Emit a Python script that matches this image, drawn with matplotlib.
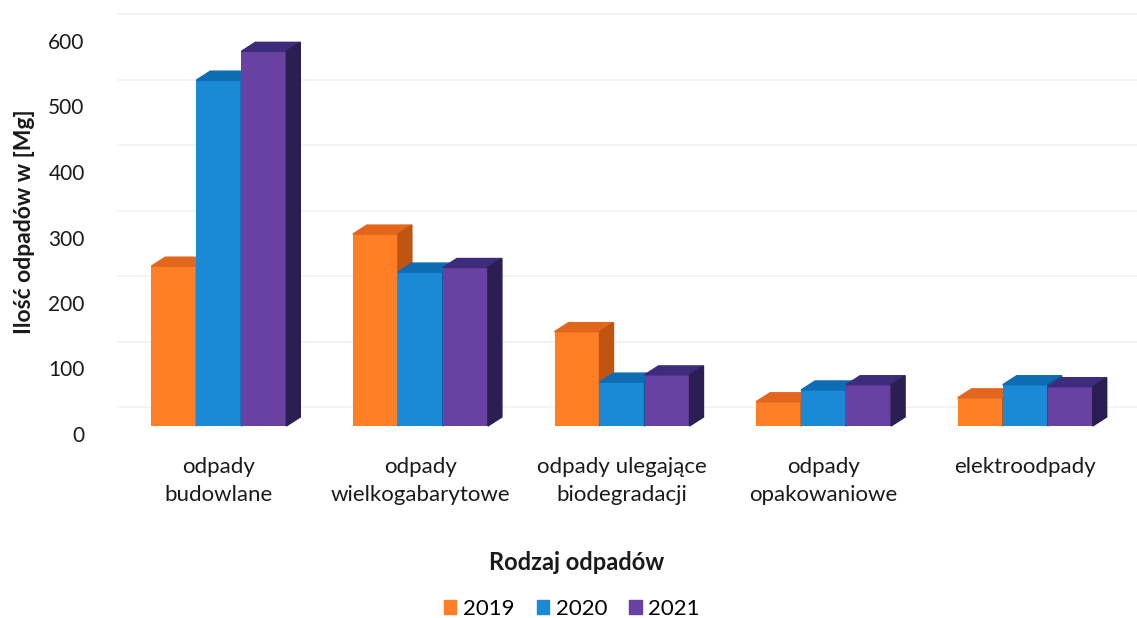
import numpy as np
import matplotlib.pyplot as plt
from matplotlib.patches import Polygon, Patch
from matplotlib.transforms import ScaledTranslation

categories = ['odpady\nbudowlane', 'odpady\nwielkogabarytowe', 'odpady ulegające\nbiodegradacji',
              'odpady\nopakowaniowe', 'elektroodpady']
years = ['2019', '2020', '2021']
v2019 = [244, 293, 144, 37, 43]
v2020 = [528, 235, 67, 55, 63]
v2021 = [572, 242, 78, 63, 60]
yticks = [0, 100, 200, 300, 400, 500, 600]

front = ['#FF7F27', '#1A8AD6', '#6841A2']
top = ['#E2661C', '#0D6CB2', '#3D2C7C']
side = ['#BF5510', '#0A5894', '#2A1E52']

plt.rcParams['font.family'] = ['Lato', 'DejaVu Sans']

W, H = 1137, 618
fig = plt.figure(figsize=(W / 100, H / 100), dpi=100)
# plot area in pixels
L, R = 118, 1126
y0 = 426
ymax = 650
pxu = 0.655  # pixels per unit
ax = fig.add_axes([L / W, (H - y0) / H, (R - L) / W, ymax * pxu / H])
ax.set_xlim(-0.5, 4.5)
ax.set_ylim(0, ymax)

# depth of the 3D look, converted from pixels to data units
xpx = (R - L) / 5.0
bw = 45 / xpx
ddx = 14 / xpx
ddy = 9 / pxu

# back wall gridlines
grid_off = ScaledTranslation(0, 19 / 100, fig.dpi_scale_trans)
for t in yticks:
    ax.plot([-0.5, 4.6], [t, t], color='#F3F3F3', lw=1.4, zorder=0,
            transform=ax.transData + grid_off, clip_on=False)

series = [v2019, v2020, v2021]
x = np.arange(len(categories))
z = 2
for i in range(len(categories)):
    for j, vals in enumerate(series):
        xl = x[i] + (j - 1) * bw - bw / 2
        v = vals[i]
        ax.bar(xl, v, width=bw, align='edge', color=front[j], zorder=z)
        ax.add_patch(Polygon([(xl, v), (xl + ddx, v + ddy), (xl + bw + ddx, v + ddy), (xl + bw, v)],
                             closed=True, color=top[j], zorder=z, clip_on=False))
        ax.add_patch(Polygon([(xl + bw, 0), (xl + bw + ddx, ddy), (xl + bw + ddx, v + ddy), (xl + bw, v)],
                             closed=True, color=side[j], zorder=z, clip_on=False))
        z += 1

for s in ax.spines.values():
    s.set_visible(False)
ax.set_yticks(yticks)
ax.set_xticks(x)
ax.set_xticklabels(categories, linespacing=1.5)
ax.tick_params(axis='both', length=0, colors='#1A1A1A')
ax.tick_params(axis='y', pad=24, labelsize=15)
ax.tick_params(axis='x', pad=22, labelsize=16)
for lbl in ax.get_yticklabels():
    lbl.set_transform(lbl.get_transform() + ScaledTranslation(0, -8 / 100, fig.dpi_scale_trans))

fig.text(25 / W, 1 - 222 / H, 'Ilość odpadów w [Mg]', rotation=90, ha='center', va='center',
         fontsize=16.5, fontweight='bold', color='#1A1A1A')
fig.text(577 / W, 1 - 562 / H, 'Rodzaj odpadów', ha='center', va='center',
         fontsize=17, fontweight='bold', color='#1A1A1A')

handles = [Patch(color=c, label=y) for c, y in zip(front, years)]
fig.legend(handles=handles, loc='center', bbox_to_anchor=(572 / W, 1 - 609 / H), ncol=3,
           frameon=False, fontsize=16, handlelength=0.55, handleheight=0.55,
           handletextpad=0.3, columnspacing=1.0)

fig.savefig('out.png', dpi=100)
